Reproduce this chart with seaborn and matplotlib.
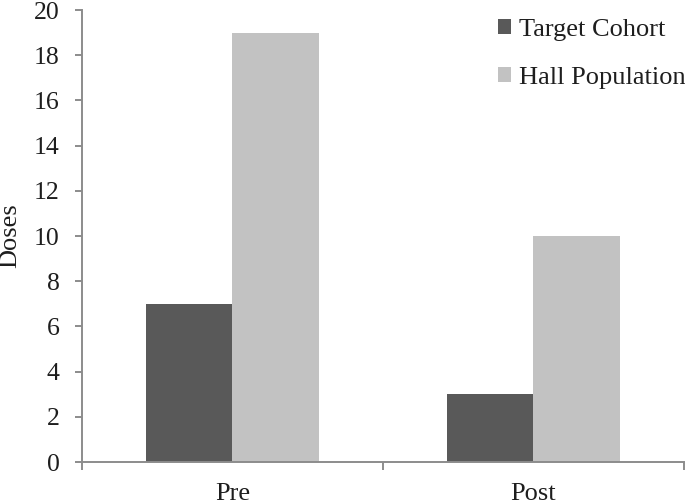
import matplotlib
matplotlib.use("Agg")
import matplotlib.pyplot as plt
import seaborn as sns
import pandas as pd

# Data
periods = ["Pre", "Post"]
target_cohort = [7, 3]
hall_population = [19, 10]
series_names = ["Target Cohort", "Hall Population"]
y_ticks = [0, 2, 4, 6, 8, 10, 12, 14, 16, 18, 20]

df = pd.DataFrame({
    "Period": periods * 2,
    "Doses": target_cohort + hall_population,
    "Group": [series_names[0]] * 2 + [series_names[1]] * 2,
})

sns.set_theme(style="white")
plt.rcParams["font.family"] = ["Liberation Serif", "DejaVu Serif"]

axis_color = "#8c8c8c"
text_color = "#1e1e1e"
fig = plt.figure(figsize=(6.85, 5.04), dpi=100)
ax = fig.add_axes([0.1197, 0.0833, 0.8788, 0.8968])

sns.barplot(data=df, x="Period", y="Doses", hue="Group", order=periods,
            hue_order=series_names, palette=["#595959", "#c2c2c2"],
            width=0.574, gap=0, saturation=1, linewidth=0, ax=ax, legend=True)

ax.set_xlim(-0.5, 1.5)
ax.set_ylim(0, 20)
ax.set_yticks(y_ticks)
ax.set_yticklabels([str(t) for t in y_ticks], fontsize=18.5, color=text_color)
ax.set_ylabel("Doses", fontsize=19, color=text_color, labelpad=9)
ax.set_xlabel("")

# category labels centered, tick marks at category boundaries
ax.set_xticks([0, 1])
ax.set_xticklabels(periods, fontsize=19, color=text_color)
ax.tick_params(axis="x", which="major", bottom=True, length=0, pad=15)
ax.set_xticks([-0.5, 0.5, 1.5], minor=True)
ax.tick_params(axis="x", which="minor", bottom=True, length=5.8, width=1.4,
               color=axis_color, direction="out")
ax.tick_params(axis="y", left=True, length=5, width=1.4, color=axis_color,
               direction="out", pad=11)

for side in ["top", "right"]:
    ax.spines[side].set_visible(False)
for side in ["left", "bottom"]:
    ax.spines[side].set_color(axis_color)
    ax.spines[side].set_linewidth(1.4)

leg = ax.legend(loc="upper left", bbox_to_anchor=(0.691, 0.98), frameon=False,
                fontsize=19, handlelength=0.5, handleheight=0.5,
                handletextpad=0.3, labelspacing=0.98, borderpad=0,
                borderaxespad=0)
for t in leg.get_texts():
    t.set_color(text_color)

fig.savefig("out.png", dpi=100)
